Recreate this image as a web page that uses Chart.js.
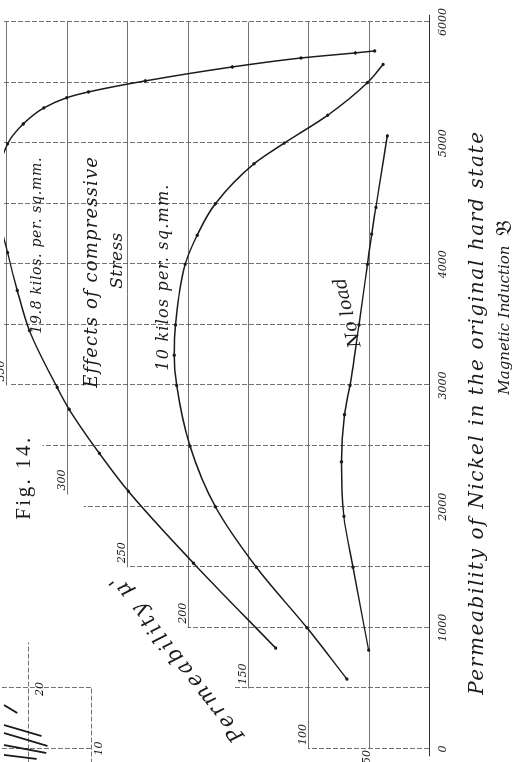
<!DOCTYPE html>
<html>
<head>
<meta charset="utf-8">
<title>Fig. 14 - Permeability of Nickel</title>
<script src="https://cdn.jsdelivr.net/npm/chart.js@4.4.1/dist/chart.umd.min.js"></script>
<style>
    html, body { margin: 0; padding: 0; background: #fff; }
    #page { position: relative; width: 525px; height: 762px; overflow: hidden; background: #fff; }
    /* the plate is printed sideways, so the whole chart is turned a quarter left */
    #turn { position: absolute; left: 0; top: 0; width: 762px; height: 525px;
            transform-origin: 0 0; transform: translateY(762px) rotate(-90deg); }
</style>
</head>
<body>
<div id="page"><div id="turn"><canvas id="fig14" width="762" height="525"></canvas></div></div>
<script>
// values: induction B and permeability mu
const inductionNoLoad = [816, 1500, 1920, 2370, 2760, 3000, 3500, 4000, 4250, 4470, 5060];
const muNoLoad = [50, 63, 70.5, 72.5, 70, 65.5, 58, 51, 47.5, 44, 34.5];

const induction10 = [577, 1000, 1500, 2000, 2500, 3000, 3250, 3500, 4000, 4240, 4500, 4830, 5000, 5230, 5500, 5650];
const mu10 = [68, 101, 143, 177, 198, 209, 211, 210, 202, 192, 177, 145, 120, 84, 51, 38];

const induction198 = [833, 1533, 2127, 2440, 2803, 2984, 3454, 3784, 4097, 4530, 4995, 5159, 5291, 5375, 5423, 5514, 5629, 5703, 5745, 5761];
const mu198 = [127, 195, 249, 273, 298, 308, 331, 341, 349, 358, 349, 336, 319, 300, 282, 235, 163, 106, 61, 45];

// bits of the neighbouring plate that got into the corner of the scan
const fragmentInduction = [363, 297, null, 198, 107, null, 132, 25, null, 33, -33, null, -49, -82];
const fragmentMu = [352, 341, null, 352, 321, null, 352, 316, null, 352, 317, null, 352, 325];
const fragmentRuleMu = [280, 332];
const fragmentRuleTo = [500, 880];
const fragmentRuleB = [0, 500];
const fragmentTickText = ["10", "20"];
const fragmentTickB = [4, 495];
const fragmentTickMu = [273, 322];

// ruling of the squared paper (it stops in steps on the upper left)
const inductionGrid = [0, 500, 1000, 1500, 2000, 2500, 3000, 3500, 4000, 4500, 5000, 5500, 6000];
const inductionGridTop = [100, 162, 200, 250, 286, 320, 347, 352, 352, 352, 352, 352, 352];
const muGrid = [50, 100, 150, 200, 250, 300, 350];
const muGridFrom = [0, 0, 500, 1000, 1500, 2100, 3000];
const muTickLabels = ["50", "100", "150", "200", "250", "300", "350"];
const muTickSide = [true, false, false, false, false, false, false];

const titleLine1 = "Permeability of Nickel in the original hard state";
const titleLine2 = "Magnetic Induction";
const titleSymbol = "\u{1D505}";

const INK = "#1b1b1b";
const SCRIPT = "italic {s}px 'DejaVu Serif', serif";
const DIGITS = "italic 11px 'DejaVu Serif', serif";

function script(size) {
    return SCRIPT.replace("{s}", size);
}

function toPoints(xs, ys) {
    return xs.map((x, i) => ({ x: x, y: ys[i] }));
}

// text stretched out to the width the engraver gave it
function spacedText(ctx, text, cx, cy, width, font, angle) {
    ctx.save();
    ctx.font = font;
    ctx.letterSpacing = "0px";
    let natural = ctx.measureText(text).width;
    let count = Array.from(text).length;
    let gap = Math.max(0, (width - natural) / Math.max(count - 1, 1));
    ctx.letterSpacing = gap.toFixed(2) + "px";
    ctx.translate(cx, cy);
    ctx.rotate(angle || 0);
    ctx.textAlign = "left";
    ctx.textBaseline = "middle";
    ctx.fillStyle = INK;
    ctx.fillText(text, -Math.max(width, natural) / 2, 0);
    ctx.restore();
}

const paperGrid = {
    id: "paperGrid",
    beforeDatasetsDraw(chart) {
        const { ctx, scales: { x, y } } = chart;
        ctx.save();
        ctx.lineWidth = 1;

        // induction rulings
        ctx.strokeStyle = "rgba(80, 80, 80, 0.8)";
        ctx.setLineDash([5, 2]);
        inductionGrid.forEach((b, i) => {
            let px = Math.round(x.getPixelForValue(b)) + 0.5;
            ctx.beginPath();
            ctx.moveTo(px, y.getPixelForValue(0));
            ctx.lineTo(px, y.getPixelForValue(inductionGridTop[i]));
            ctx.stroke();
        });
        fragmentRuleB.forEach((b) => {
            let px = Math.round(x.getPixelForValue(b)) + 0.5;
            ctx.beginPath();
            ctx.moveTo(px, y.getPixelForValue(fragmentRuleMu[0]));
            ctx.lineTo(px, y.getPixelForValue(360));
            ctx.stroke();
        });
        fragmentRuleMu.forEach((mu, i) => {
            let py = Math.round(y.getPixelForValue(mu)) + 0.5;
            ctx.beginPath();
            ctx.moveTo(x.getPixelForValue(-120), py);
            ctx.lineTo(x.getPixelForValue(fragmentRuleTo[i]), py);
            ctx.stroke();
        });

        // permeability rulings
        ctx.setLineDash([]);
        ctx.strokeStyle = "rgba(90, 90, 90, 0.85)";
        muGrid.forEach((mu, i) => {
            let py = Math.round(y.getPixelForValue(mu)) + 0.5;
            ctx.beginPath();
            ctx.moveTo(x.getPixelForValue(muGridFrom[i]), py);
            ctx.lineTo(x.getPixelForValue(6000), py);
            ctx.stroke();
        });

        // base line mu = 0
        ctx.strokeStyle = "#333";
        let base = Math.round(y.getPixelForValue(0)) + 0.5;
        ctx.beginPath();
        ctx.moveTo(x.getPixelForValue(-60), base);
        ctx.lineTo(x.getPixelForValue(6060), base);
        ctx.stroke();
        ctx.restore();
    }
};

const plateText = {
    id: "plateText",
    afterDatasetsDraw(chart) {
        const { ctx, chartArea, scales: { x, y } } = chart;

        // permeability figures sit at the foot of each ruling
        ctx.save();
        ctx.font = DIGITS;
        ctx.fillStyle = INK;
        muGrid.forEach((mu, i) => {
            if (muTickSide[i]) {
                ctx.textAlign = "right";
                ctx.textBaseline = "middle";
                ctx.fillText(muTickLabels[i], x.getPixelForValue(0) - 1, y.getPixelForValue(mu) - 1);
            } else {
                ctx.textAlign = "left";
                ctx.textBaseline = "alphabetic";
                ctx.fillText(muTickLabels[i], x.getPixelForValue(muGridFrom[i]) + 4, y.getPixelForValue(mu) - 2);
            }
        });
        ctx.textAlign = "center";
        ctx.textBaseline = "middle";
        fragmentTickText.forEach((t, i) => {
            ctx.fillText(t, x.getPixelForValue(fragmentTickB[i]), y.getPixelForValue(fragmentTickMu[i]));
        });
        ctx.restore();

        const at = (b, mu) => [x.getPixelForValue(b), y.getPixelForValue(mu)];
        let p;

        p = at(4154, 324);
        spacedText(ctx, "19.8 kilos. per. sq.mm.", p[0], p[1], 176, script(14));
        p = at(3931, 279);
        spacedText(ctx, "Effects of compressive", p[0], p[1], 230, script(18));
        p = at(4030, 258);
        spacedText(ctx, "Stress", p[0], p[1], 56, script(17));
        p = at(3890, 220);
        spacedText(ctx, "10 kilos per. sq.mm.", p[0], p[1], 186, script(16));
        p = at(3602, 67);
        spacedText(ctx, "No load", p[0], p[1], 70, script(18), -0.23);
        p = at(750, 208);
        spacedText(ctx, "Permeability \u03BC'", p[0], p[1], 205, script(21), -0.66);
        p = at(2230, 335);
        spacedText(ctx, "Fig. 14.", p[0], p[1], 82, "21px 'Liberation Serif', serif");

        // the two lines of title under the induction scale
        spacedText(ctx, titleLine1, x.getPixelForValue(2770), chartArea.bottom + 49, 563, script(20));
        spacedText(ctx, titleLine2, x.getPixelForValue(3540), chartArea.bottom + 76, 123, script(15));
        ctx.save();
        ctx.font = "22px 'DejaVu Sans', 'Noto Sans', serif";
        ctx.fillStyle = INK;
        ctx.textAlign = "center";
        ctx.textBaseline = "middle";
        ctx.fillText(titleSymbol, x.getPixelForValue(4300), chartArea.bottom + 76);
        ctx.restore();
    }
};

function curve(label, xs, ys) {
    return {
        label: label,
        data: toPoints(xs, ys),
        borderColor: INK,
        borderWidth: 1.5,
        pointRadius: 1.7,
        pointBackgroundColor: INK,
        pointBorderWidth: 0,
        cubicInterpolationMode: "monotone",
        fill: false
    };
}

document.addEventListener("DOMContentLoaded", function () {
    let ctx = document.getElementById("fig14").getContext("2d");

    new Chart(ctx, {
        type: "line",
        data: {
            datasets: [
                curve("No load", inductionNoLoad, muNoLoad),
                curve("10 kilos per sq.mm.", induction10, mu10),
                curve("19.8 kilos per sq.mm.", induction198, mu198),
                {
                    label: "fragment",
                    data: toPoints(fragmentInduction, fragmentMu),
                    borderColor: INK,
                    borderWidth: 1.8,
                    pointRadius: 0,
                    spanGaps: false,
                    tension: 0,
                    clip: false
                }
            ]
        },
        options: {
            responsive: false,
            animation: false,
            devicePixelRatio: 1,
            layout: {
                padding: { left: 13, right: 21, top: 0, bottom: 0 }
            },
            plugins: {
                legend: { display: false },
                tooltip: { enabled: false }
            },
            scales: {
                x: {
                    type: "linear",
                    min: 0,
                    max: 6000,
                    grid: { display: false, drawTicks: false },
                    border: { display: false },
                    ticks: {
                        stepSize: 1000,
                        padding: 8,
                        color: INK,
                        font: { family: "'DejaVu Serif', serif", style: "italic", size: 11 },
                        maxRotation: 0,
                        callback: (value) => String(value)
                    },
                    afterFit: (scale) => {
                        scale.height = 96;
                    }
                },
                y: {
                    type: "linear",
                    min: 0,
                    max: 352,
                    display: false
                }
            }
        },
        plugins: [paperGrid, plateText]
    });
});
</script>
</body>
</html>
